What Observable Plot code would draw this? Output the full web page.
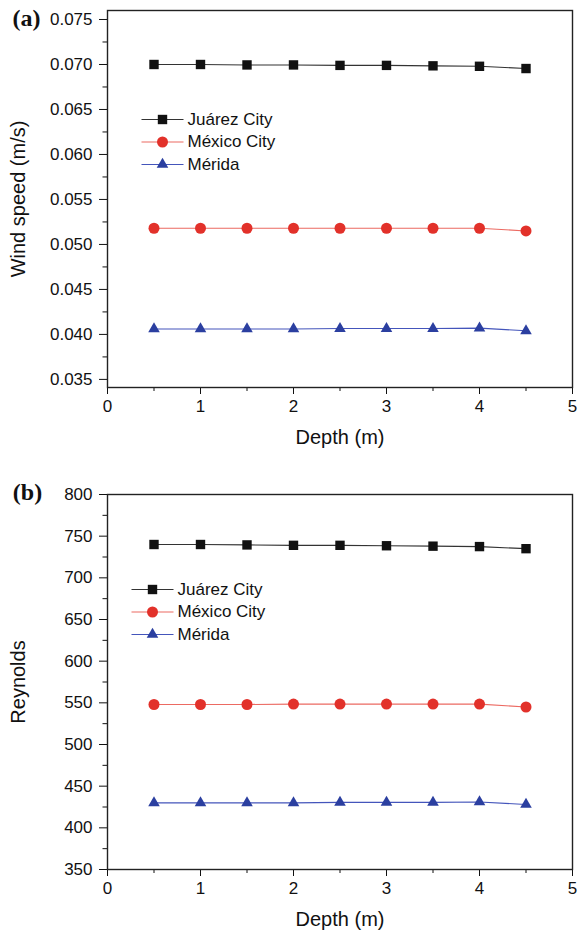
<!DOCTYPE html>
<html>
<head>
<meta charset="utf-8">
<script src="https://cdn.jsdelivr.net/npm/d3@7"></script>
<script src="https://cdn.jsdelivr.net/npm/@observablehq/plot@0.6"></script>
<style>
  html, body { margin: 0; padding: 0; background: #fff; }
  #chart { width: 580px; }
  #chart svg { display: block; }
</style>
</head>
<body>
<div id="chart"></div>
<script>
// ---------- data ----------
const depth = [0.5, 1, 1.5, 2, 2.5, 3, 3.5, 4, 4.5];
const seriesNames = ["Juárez City", "México City", "Mérida"];
const windJuarez = [0.0700, 0.0700, 0.06995, 0.06995, 0.0699, 0.0699, 0.06985, 0.0698, 0.06955];
const windMexico = [0.0518, 0.0518, 0.0518, 0.0518, 0.0518, 0.0518, 0.0518, 0.0518, 0.0515];
const windMerida = [0.0406, 0.0406, 0.0406, 0.0406, 0.04065, 0.04065, 0.04065, 0.0407, 0.0404];
const reJuarez = [740, 740, 739.5, 739, 739, 738.5, 738, 737.5, 735];
const reMexico = [548, 548, 548, 548.5, 548.5, 548.5, 548.5, 548.5, 545];
const reMerida = [430, 430, 430, 430, 430.5, 430.5, 430.5, 431, 428];
const xTicks = [0, 1, 2, 3, 4, 5];
const xMinor = [0.5, 1.5, 2.5, 3.5, 4.5];
const windTicks = [0.035, 0.040, 0.045, 0.050, 0.055, 0.060, 0.065, 0.070, 0.075];
const windMinor = [0.0375, 0.0425, 0.0475, 0.0525, 0.0575, 0.0625, 0.0675, 0.0725];
const reTicks = [350, 400, 450, 500, 550, 600, 650, 700, 750, 800];
const reMinor = [375, 425, 475, 525, 575, 625, 675, 725, 775];

// ---------- styles ----------
const font = "'Liberation Sans', Arial, sans-serif";
const markerColors = ["#111111", "#e2312a", "#2b3fa0"];
const lineColors = ["#333333", "#ec6a62", "#4455bb"];
const symbols = ["square", "circle", "triangle"];
const radii = [5.3, 5.5, 4.3];
const lineSym = { draw(ctx) { ctx.moveTo(-21, 0); ctx.lineTo(21, 0); } };

function panel(opts) {
  const { values, yDomain, yTicks, yMinor, yFormat, yLabel, tag,
          height, mt, mb, legendDx, legendDy, tagDx, tagDy } = opts;
  const marks = [];
  values.forEach((vals, i) => {
    const data = depth.map((d, j) => ({ depth: d, v: vals[j] }));
    marks.push(Plot.line(data, { x: "depth", y: "v", stroke: lineColors[i], strokeWidth: 1.1 }));
    marks.push(Plot.dot(data, { x: "depth", y: "v", symbol: symbols[i], r: radii[i], fill: markerColors[i], stroke: "none" }));
    // legend
    const dy = legendDy + i * 22.5;
    marks.push(Plot.dot([0], { frameAnchor: "top-left", dx: legendDx, dy, symbol: lineSym, stroke: lineColors[i], strokeWidth: 1.2, fill: "none" }));
    marks.push(Plot.dot([0], { frameAnchor: "top-left", dx: legendDx, dy, symbol: symbols[i], r: radii[i], fill: markerColors[i], stroke: "none" }));
    marks.push(Plot.text([seriesNames[i]], { frameAnchor: "top-left", dx: legendDx + 25, dy, text: d => d, textAnchor: "start", lineAnchor: "middle", fontSize: 17, fill: "#111" }));
  });
  marks.push(
    Plot.axisX({ ticks: xTicks, tickSize: 7, tickPadding: 5, fontSize: 17, label: null, tickFormat: d3.format("d") }),
    Plot.axisX({ ticks: xMinor, tickSize: 4, tickFormat: () => "", label: null }),
    Plot.axisY({ ticks: yTicks, tickSize: 8, tickPadding: 7, fontSize: 17, label: null, tickFormat: yFormat }),
    Plot.axisY({ ticks: yMinor, tickSize: 4.5, tickFormat: () => "", label: null }),
    Plot.frame({ stroke: "#222", strokeWidth: 1.4 }),
    Plot.text(["Depth (m)"], { frameAnchor: "bottom", dy: 56, text: d => d, fontSize: 20, fill: "#111" }),
    Plot.text([yLabel], { frameAnchor: "left", dx: -89, rotate: -90, textAnchor: "middle", text: d => d, fontSize: 20, fill: "#111" }),
    Plot.text([tag], { frameAnchor: "top-left", dx: tagDx, dy: tagDy, text: d => d, textAnchor: "middle", lineAnchor: "middle", fontSize: 24, fontWeight: "bold", fontFamily: "'Liberation Serif', 'Times New Roman', serif", fill: "#111" })
  );
  return Plot.plot({
    width: 580, height,
    marginLeft: 107, marginRight: 8, marginTop: mt, marginBottom: mb,
    style: { fontFamily: font, color: "#111", background: "#fff", overflow: "visible" },
    x: { domain: [0, 5] },
    y: { domain: yDomain },
    marks
  });
}

const chart = document.getElementById("chart");
chart.append(panel({
  values: [windJuarez, windMexico, windMerida],
  yDomain: [0.0341, 0.0760], yTicks: windTicks, yMinor: windMinor,
  yFormat: d3.format(".3f"), yLabel: "Wind speed (m/s)", tag: "(a)",
  height: 467, mt: 10, mb: 80, legendDx: 55, legendDy: 109, tagDx: -81, tagDy: 8
}));
chart.append(panel({
  values: [reJuarez, reMexico, reMerida],
  yDomain: [350, 800], yTicks: reTicks, yMinor: reMinor,
  yFormat: d3.format("d"), yLabel: "Reynolds", tag: "(b)",
  height: 467, mt: 27, mb: 65, legendDx: 45, legendDy: 95, tagDx: -80, tagDy: -2
}));
</script>
</body>
</html>
